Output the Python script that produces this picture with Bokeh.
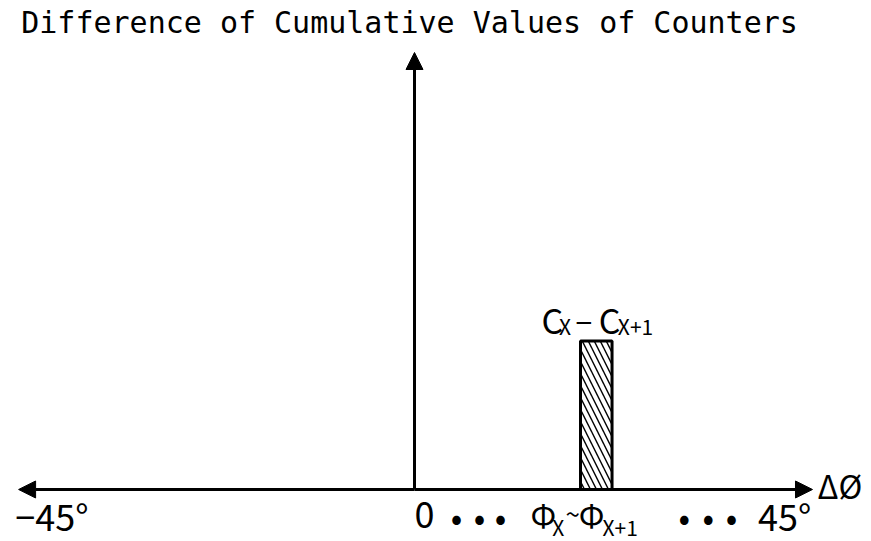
from bokeh.plotting import figure
from bokeh.models import Arrow, NormalHead, Range1d, ColumnDataSource
from bokeh.core.properties import value
from bokeh.embed import file_html
from bokeh.resources import INLINE

# ---- data ----
title_text = "Difference of Cumulative Values of Counters"
bar_left = [20.0]                     # Φx
bar_right = [23.8]                    # Φx+1
bar_value = [34.0]                    # Cx - Cx+1
y_top = 100.0
x_tick_labels = ["−45°", "0", "45°"]
x_tick_pos = [-48.1, 0.0, 41.4]
x_label = "ΔØ"
dot_pos = [5.06, 7.83, 10.36, 32.5, 35.4, 38.2]
phi_parts = ["Φ", "Φ"]
phi_subs = ["X", "X+1"]
c_parts = ["C", "C"]
c_subs = ["X", "X+1"]

FONT = "Noto Sans CJK KR"
TFONT = "DejaVu Sans Mono"

p = figure(width=871, height=541, output_backend="svg", toolbar_location=None,
           x_range=Range1d(-49.88, 55.06), y_range=Range1d(-11.9, 111.9),
           min_border=0, outline_line_color=None)
p.axis.visible = False
p.grid.visible = False

# bar
p.quad(left=bar_left, right=bar_right, bottom=[0], top=bar_value,
       fill_color="white", line_color="black", line_width=3,
       hatch_pattern="\\", hatch_color="black", hatch_scale=12, hatch_weight=1.4)

# axes arrows
head = dict(size=17, fill_color="black", line_color="black")
p.add_layout(Arrow(x_start=0, y_start=0, x_end=-47.7, y_end=0, line_width=3,
                   end=NormalHead(**head)))
p.add_layout(Arrow(x_start=0, y_start=0, x_end=47.95, y_end=0, line_width=3,
                   end=NormalHead(**head)))
p.add_layout(Arrow(x_start=0, y_start=0, x_end=0, y_end=y_top, line_width=3,
                   end=NormalHead(**head)))

# title
p.text(x=[-0.6], y=[106.9], text=[title_text], text_font=value(TFONT),
       text_font_size="30px", text_align="center", text_baseline="middle")

# tick labels
p.text(x=x_tick_pos, y=[-5.95] * 3, text=x_tick_labels, text_font=value(FONT),
       text_font_size="36px", text_align="left", text_baseline="middle")
p.text(x=dot_pos, y=[-5.95] * len(dot_pos), text=["•"] * len(dot_pos),
       text_font=value(FONT), text_font_size="34px",
       text_align="center", text_baseline="middle")

# Φx ~ Φx+1
src_big = ColumnDataSource(dict(x=[13.98, 19.8], y=[-5.6, -5.6], t=phi_parts))
p.text(x="x", y="y", text="t", source=src_big, text_font=value(FONT),
       text_font_size="32px", text_align="left", text_baseline="middle")
src_sub = ColumnDataSource(dict(x=[16.6, 22.65], y=[-8.47, -8.47], t=phi_subs))
p.text(x="x", y="y", text="t", source=src_sub, text_font=value(FONT),
       text_font_size="21px", text_align="left", text_baseline="middle")
p.text(x=[18.2], y=[-5.2], text=["~"], text_font=value(FONT),
       text_font_size="26px", text_align="left", text_baseline="middle")

# x label
p.text(x=[48.55], y=[0.92], text=[x_label], text_font=value(FONT),
       text_font_size="32px", text_align="left", text_baseline="middle")

# bar label Cx - Cx+1
src_c = ColumnDataSource(dict(x=[15.3, 22.2], y=[39.0, 39.0], t=c_parts))
p.text(x="x", y="y", text="t", source=src_c, text_font=value(FONT),
       text_font_size="34px", text_align="left", text_baseline="middle")
src_cs = ColumnDataSource(dict(x=[17.4, 24.5], y=[37.4, 37.4], t=c_subs))
p.text(x="x", y="y", text="t", source=src_cs, text_font=value(FONT),
       text_font_size="21px", text_align="left", text_baseline="middle")
p.text(x=[19.4], y=[38.2], text=["−"], text_font=value(FONT),
       text_font_size="30px", text_align="left", text_baseline="middle")

open("out.html", "w").write(file_html(p, INLINE))
